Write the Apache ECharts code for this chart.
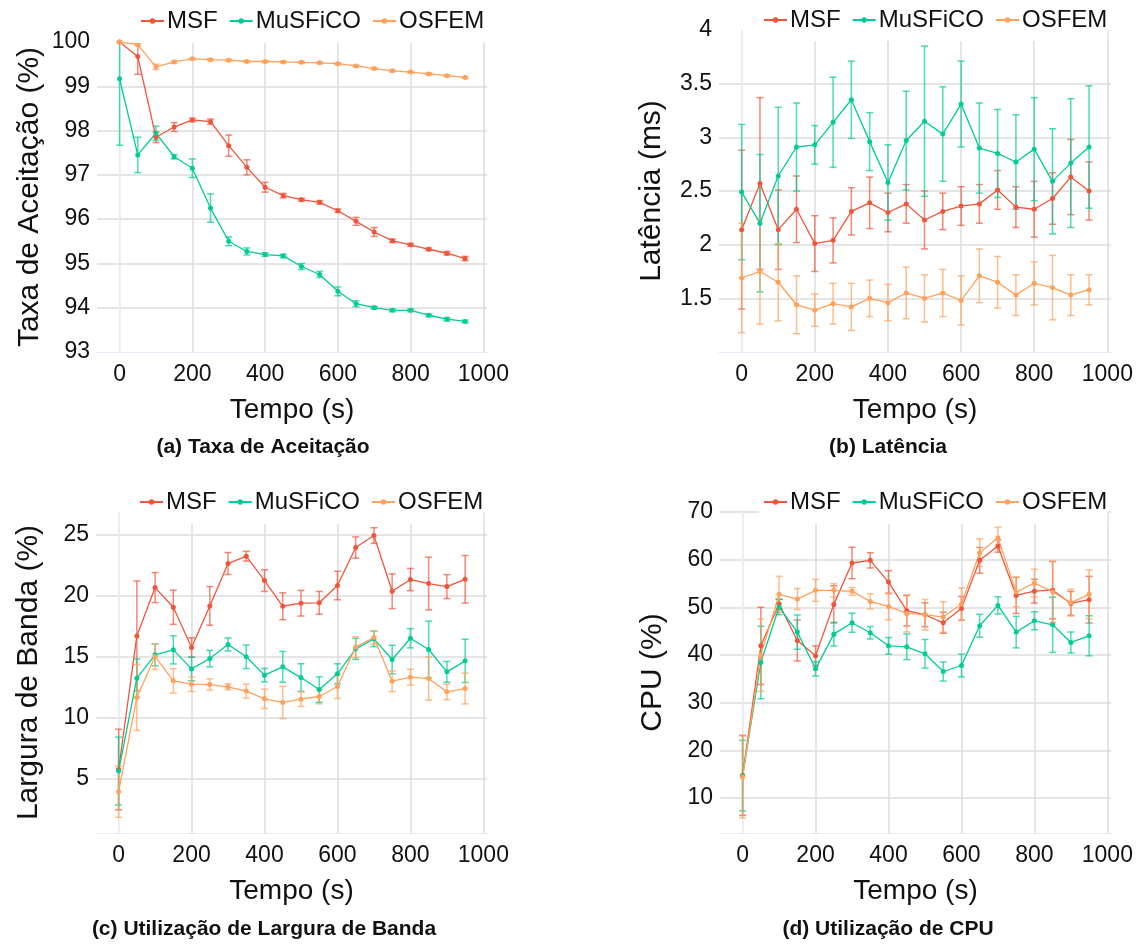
<!DOCTYPE html>
<html>
<head>
<meta charset="utf-8">
<script src="https://cdn.jsdelivr.net/npm/echarts@6.0.0/dist/echarts.min.js"></script>
<style>
  html, body { margin: 0; padding: 0; background: #fff; }
  #main { width: 1142px; height: 950px; }
</style>
</head>
<body>
<div id="main"></div>
<script>
// tempos (s)
var time = [0, 50, 100, 150, 200, 250, 300, 350, 400, 450, 500, 550, 600, 650, 700, 750, 800, 850, 900, 950];
var timeTicks = [0, 200, 400, 600, 800, 1000];

// (a) Taxa de Aceitação
var accMSF = [100, 99.67, 97.85, 98.08, 98.24, 98.2, 97.66, 97.17, 96.72, 96.53, 96.44, 96.38, 96.19, 95.95, 95.71, 95.51, 95.42, 95.32, 95.23, 95.11];
var accMSFErr = [0, 0.4, 0.12, 0.1, 0.04, 0.06, 0.24, 0.17, 0.11, 0.05, 0.03, 0.04, 0.04, 0.09, 0.1, 0.04, 0.03, 0.03, 0.04, 0.05];
var accMuS = [99.17, 97.45, 97.94, 97.41, 97.15, 96.25, 95.5, 95.27, 95.2, 95.17, 94.93, 94.75, 94.37, 94.09, 94.0, 93.94, 93.94, 93.83, 93.74, 93.69];
var accMuSErr = [1.5, 0.4, 0.16, 0.05, 0.21, 0.32, 0.1, 0.08, 0.04, 0.04, 0.07, 0.07, 0.1, 0.07, 0.03, 0.03, 0.03, 0.03, 0.04, 0.03];
var accOSF = [100, 99.94, 99.44, 99.55, 99.62, 99.6, 99.59, 99.56, 99.56, 99.55, 99.54, 99.53, 99.51, 99.46, 99.4, 99.35, 99.32, 99.28, 99.24, 99.2];
var accOSFErr = [0, 0.02, 0.06, 0.03, 0.02, 0.02, 0.02, 0.02, 0.02, 0.02, 0.02, 0.02, 0.02, 0.02, 0.02, 0.02, 0.02, 0.02, 0.02, 0.02];
var accLabels = [93, 94, 95, 96, 97, 98, 99, 100];
var accGrid = [94, 95, 96, 97, 98, 99];

// (b) Latência
var latMSF = [2.14, 2.57, 2.14, 2.33, 2.01, 2.04, 2.31, 2.39, 2.30, 2.38, 2.23, 2.31, 2.36, 2.38, 2.51, 2.35, 2.33, 2.43, 2.63, 2.50];
var latMSFErr = [0.74, 0.8, 0.37, 0.31, 0.26, 0.21, 0.22, 0.24, 0.18, 0.18, 0.27, 0.17, 0.18, 0.18, 0.18, 0.19, 0.26, 0.24, 0.35, 0.27];
var latMuS = [2.49, 2.20, 2.64, 2.91, 2.93, 3.14, 3.35, 2.96, 2.58, 2.97, 3.15, 3.03, 3.31, 2.90, 2.85, 2.77, 2.89, 2.59, 2.76, 2.91];
var latMuSErr = [0.63, 0.64, 0.64, 0.41, 0.18, 0.42, 0.36, 0.27, 0.35, 0.46, 0.7, 0.44, 0.4, 0.42, 0.41, 0.44, 0.48, 0.49, 0.6, 0.57];
var latOSF = [1.69, 1.75, 1.65, 1.44, 1.39, 1.45, 1.42, 1.50, 1.46, 1.55, 1.50, 1.55, 1.48, 1.71, 1.65, 1.53, 1.64, 1.60, 1.53, 1.58];
var latOSFErr = [0.51, 0.49, 0.36, 0.27, 0.15, 0.19, 0.22, 0.17, 0.17, 0.24, 0.22, 0.22, 0.23, 0.25, 0.24, 0.19, 0.2, 0.3, 0.19, 0.14];
var latLabels = [1.5, 2, 2.5, 3, 3.5, 4];
var latGrid = [1.5, 2, 2.5, 3, 3.5];

// (c) Utilização de Largura de Banda
var bwMSF = [5.76, 16.7, 20.66, 19.05, 15.75, 19.16, 22.63, 23.23, 21.23, 19.13, 19.38, 19.41, 20.83, 23.94, 24.92, 20.36, 21.32, 20.99, 20.74, 21.34];
var bwMSFErr = [3.3, 4.5, 1.23, 1.4, 0.8, 1.58, 0.9, 0.4, 0.89, 1.1, 1.05, 0.93, 1.17, 0.87, 0.64, 1.42, 0.91, 2.16, 0.98, 1.95];
var bwMuS = [5.63, 13.24, 15.15, 15.56, 14.0, 14.85, 16.0, 14.99, 13.49, 14.17, 13.29, 12.31, 13.6, 15.64, 16.46, 14.77, 16.51, 15.59, 13.76, 14.66];
var bwMuSErr = [2.78, 1.57, 0.9, 1.15, 0.97, 0.67, 0.53, 0.96, 0.55, 1.26, 1.13, 1.04, 0.82, 0.86, 0.64, 1.17, 0.79, 2.33, 0.85, 1.77];
var bwOSF = [3.94, 11.66, 15.01, 13.02, 12.75, 12.72, 12.53, 12.18, 11.55, 11.25, 11.52, 11.74, 12.56, 15.78, 16.57, 12.99, 13.32, 13.21, 12.12, 12.39];
var bwOSFErr = [2.1, 2.7, 1.05, 1.0, 0.6, 0.46, 0.25, 0.57, 0.79, 1.32, 0.6, 0.6, 0.98, 0.85, 0.53, 0.85, 0.65, 1.77, 0.64, 1.26];
var bwLabels = [5, 10, 15, 20, 25];

// (d) Utilização de CPU
var cpuMSF = [14.76, 41.93, 50.69, 43.05, 39.83, 50.62, 59.3, 59.86, 55.3, 49.29, 48.45, 46.76, 49.78, 59.86, 62.87, 52.5, 53.4, 53.6, 50.83, 51.6];
var cpuMSFErr = [8.4, 8.1, 1.0, 4.3, 2.1, 3.9, 3.3, 1.6, 2.4, 3.2, 2.5, 2.2, 2.5, 2.7, 1.3, 3.8, 2.5, 6.0, 2.5, 4.9];
var cpuMuS = [14.69, 38.43, 50.06, 44.8, 37.1, 44.38, 46.76, 44.66, 41.93, 41.72, 40.25, 36.54, 37.8, 46.13, 50.41, 44.8, 47.18, 46.34, 42.63, 44.03];
var cpuMuSErr = [7.4, 7.6, 1.6, 3.6, 1.5, 2.5, 2.0, 1.3, 1.75, 2.7, 3.0, 2.0, 2.4, 2.4, 1.8, 3.3, 1.9, 5.8, 2.2, 4.2];
var cpuOSF = [14.41, 39.97, 52.72, 51.74, 53.56, 53.56, 53.35, 51.25, 50.2, 48.73, 48.45, 47.96, 50.69, 61.47, 64.62, 53.2, 55.1, 53.28, 50.97, 52.72];
var cpuOSFErr = [8.6, 7.6, 3.8, 2.2, 2.3, 1.4, 0.8, 1.6, 2.8, 3.9, 3.2, 3.2, 3.4, 2.9, 2.2, 3.1, 2.9, 6.4, 2.8, 5.1];
var cpuLabels = [10, 20, 30, 40, 50, 60, 70];

var names = ['MSF', 'MuSFiCO', 'OSFEM'];
var colors = ['#EF553B', '#00CC96', '#FFA15A'];
var font = 'Liberation Sans, Arial, sans-serif';

var panels = [
  {
    grid: { left: 97, top: 42, width: 390, height: 310 },
    yName: 'Taxa de Aceitação (%)', yMin: 93, yMax: 100,
    yLabels: accLabels, yGrid: accGrid,
    vals: [accMSF, accMuS, accOSF], errs: [accMSFErr, accMuSErr, accOSFErr],
    legend: { left: 136, top: 0, padding: [9, 0, 10, 4] },
    caption: { text: '(a) Taxa de Aceitação', x: 263, y: 447 }
  },
  {
    grid: { left: 719, top: 30, width: 392, height: 322 },
    yName: 'Latência (ms)', yMin: 1, yMax: 4,
    yLabels: latLabels, yGrid: latGrid,
    vals: [latMSF, latMuS, latOSF], errs: [latMSFErr, latMuSErr, latOSFErr],
    legend: { left: 759, top: 0, padding: [8, 0, 9, 4] },
    caption: { text: '(b) Latência', x: 888, y: 447 }
  },
  {
    grid: { left: 96, top: 512, width: 391, height: 321 },
    yName: 'Largura de Banda (%)', yMin: 0.56, yMax: 26.85,
    yLabels: bwLabels, yGrid: bwLabels,
    vals: [bwMSF, bwMuS, bwOSF], errs: [bwMSFErr, bwMuSErr, bwOSFErr],
    legend: { left: 135, top: 480, padding: [10, 0, 10, 4] },
    caption: { text: '(c) Utilização de Largura de Banda', x: 264, y: 929 }
  },
  {
    grid: { left: 720, top: 512, width: 391, height: 321 },
    yName: 'CPU (%)', yMin: 2.66, yMax: 70,
    yLabels: cpuLabels, yGrid: cpuLabels,
    vals: [cpuMSF, cpuMuS, cpuOSF], errs: [cpuMSFErr, cpuMuSErr, cpuOSFErr],
    legend: { left: 759, top: 480, padding: [10, 0, 10, 4] },
    caption: { text: '(d) Utilização de CPU', x: 888, y: 929 }
  }
];

function plain(v) {
  return String(v);
}

function renderErr(params, api) {
  var x = api.value(0), y = api.value(1), e = api.value(2);
  var lo = api.coord([x, y - e]);
  var hi = api.coord([x, y + e]);
  var w = 3.5;
  var st = { stroke: api.visual('color'), lineWidth: 1.5, opacity: 0.7 };
  return {
    type: 'group',
    children: [
      { type: 'line', shape: { x1: lo[0], y1: lo[1], x2: hi[0], y2: hi[1] }, style: st },
      { type: 'line', shape: { x1: lo[0] - w, y1: lo[1], x2: lo[0] + w, y2: lo[1] }, style: st },
      { type: 'line', shape: { x1: hi[0] - w, y1: hi[1], x2: hi[0] + w, y2: hi[1] }, style: st }
    ]
  };
}

var grids = [], xAxes = [], yAxes = [], legends = [], lines = [], bars = [], texts = [];

panels.forEach(function (p, i) {
  grids.push(p.grid);
  xAxes.push({
    type: 'value', gridIndex: i, min: -62, max: 1010,
    name: 'Tempo (s)', nameLocation: 'middle', nameGap: 44,
    nameTextStyle: { fontSize: 28, color: '#111', fontFamily: font },
    axisLine: { show: true, lineStyle: { color: '#e6ecf5', width: 1 } },
    axisTick: { show: false, customValues: timeTicks },
    axisLabel: { customValues: timeTicks, formatter: plain, fontSize: 23, color: '#111', fontFamily: font, margin: 11 },
    splitLine: { show: true, lineStyle: { color: ['#e6ecf5', '#dddddd', '#dddddd', '#dddddd', '#dddddd', '#dddddd'], width: 1.5 } }
  });
  yAxes.push({
    type: 'value', gridIndex: i, min: p.yMin, max: p.yMax,
    name: p.yName, nameLocation: 'middle', nameGap: 52,
    nameTextStyle: { fontSize: 30, color: '#111', fontFamily: font },
    axisLine: { show: true, lineStyle: { color: '#e6ecf5', width: 1 } },
    axisTick: { show: false, customValues: p.yGrid },
    axisLabel: { customValues: p.yLabels, formatter: plain, fontSize: 23, color: '#111', fontFamily: font, margin: 7 },
    splitLine: { show: true, lineStyle: { color: '#dddddd', width: 1.5 } }
  });
  legends.push({
    left: p.legend.left, top: p.legend.top, padding: p.legend.padding,
    orient: 'horizontal', backgroundColor: '#fff',
    itemWidth: 23, itemHeight: 7, itemGap: 11,
    textStyle: { fontSize: 24, color: '#111', fontFamily: font, padding: [0, 0, 0, -2] },
    data: names
  });
  p.vals.forEach(function (v, k) {
    lines.push({
      name: names[k], type: 'line', xAxisIndex: i, yAxisIndex: i,
      data: time.map(function (t, j) { return [t, v[j]]; }),
      symbol: 'circle', symbolSize: 5, showSymbol: true,
      lineStyle: { width: 1.3, color: colors[k] },
      itemStyle: { color: colors[k] },
      z: 3
    });
    bars.push({
      name: names[k], type: 'custom', xAxisIndex: i, yAxisIndex: i,
      renderItem: renderErr, clip: true, silent: true,
      itemStyle: { color: colors[k] },
      encode: { x: 0, y: 1 },
      data: time.map(function (t, j) { return [t, v[j], p.errs[k][j]]; }),
      z: 2
    });
  });
  texts.push({
    type: 'text', x: p.caption.x, y: p.caption.y,
    style: { text: p.caption.text, align: 'center', verticalAlign: 'middle',
      fontSize: 21, fontWeight: 'bold', fontFamily: font, fill: '#111' }
  });
});

var chart = echarts.init(document.getElementById('main'), null, { renderer: 'canvas' });
chart.setOption({
  animation: false,
  backgroundColor: '#fff',
  grid: grids,
  xAxis: xAxes,
  yAxis: yAxes,
  legend: legends,
  graphic: texts,
  series: lines.concat(bars)
});
</script>
</body>
</html>
